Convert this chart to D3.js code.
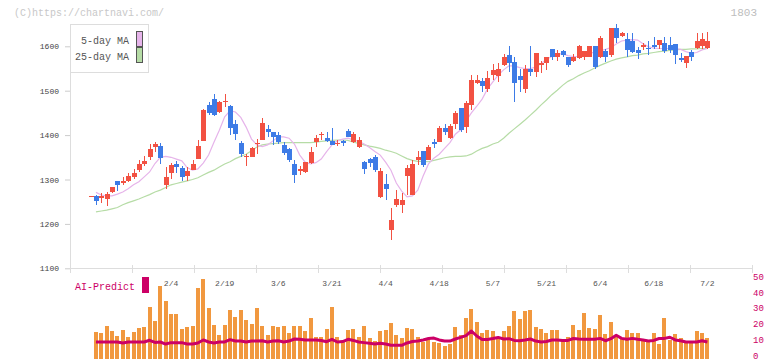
<!DOCTYPE html>
<html><head><meta charset="utf-8">
<script src="https://cdn.jsdelivr.net/npm/d3@7"></script>
<style>body{margin:0;background:#fff;} svg{display:block;font-family:"Liberation Mono","DejaVu Sans Mono",monospace;}</style>
</head><body><svg id="c" width="772" height="361"></svg>
<script>
const openP = [1263,1263,1258,1255,1271,1297,1293,1297,1306,1321,
 1335,1351,1373,1375,1288,1315,1335,1325,1308,1321,
 1347,1387,1468,1481,1452,1476,1466,1425,1383,1352,
 1351,1381,1389,1414,1408,1400,1378,1368,1335,1319,
 1318,1338,1384,1401,1393,1387,1381,1387,1410,1384,
 1374,1340,1346,1351,1261,1290,1186,1243,1242,1308,
 1265,1344,1364,1344,1385,1385,1417,1394,1425,1462,
 1419,1468,1518,1522,1504,1535,1534,1558,1580,1565,
 1532,1504,1550,1541,1558,1562,1595,1577,1589,1577,
 1567,1574,1577,1577,1601,1575,1589,1580,1642,1624,
 1616,1612,1592,1598,1597,1603,1603,1608,1603,1605,
 1574,1563,1588,1597,1601,1597];
const highP = [1263,1264,1269,1271,1283,1297,1306,1315,1324,1344,
 1353,1380,1385,1382,1329,1338,1342,1330,1329,1344,
 1389,1459,1475,1492,1477,1492,1468,1434,1387,1357,
 1374,1391,1438,1423,1408,1408,1385,1370,1344,1330,
 1340,1374,1400,1408,1408,1417,1389,1388,1413,1408,
 1395,1342,1348,1355,1325,1312,1235,1276,1269,1333,
 1344,1365,1364,1378,1391,1420,1425,1425,1454,1462,
 1477,1536,1536,1529,1544,1560,1562,1582,1601,1577,
 1548,1558,1601,1586,1567,1575,1595,1592,1592,1577,
 1583,1604,1589,1601,1601,1623,1595,1642,1650,1632,
 1629,1631,1599,1608,1612,1620,1614,1620,1622,1605,
 1586,1578,1592,1631,1629,1633];
const lowP = [1263,1243,1246,1241,1269,1275,1288,1294,1301,1318,
 1330,1344,1363,1335,1279,1301,1315,1297,1297,1330,
 1346,1386,1445,1443,1449,1464,1400,1389,1351,1330,
 1350,1357,1388,1396,1378,1380,1356,1340,1291,1310,
 1314,1336,1374,1390,1385,1377,1376,1376,1395,1382,
 1372,1312,1329,1318,1258,1254,1164,1239,1225,1265,
 1264,1333,1329,1343,1370,1384,1400,1391,1413,1408,
 1404,1456,1515,1498,1498,1524,1520,1555,1541,1475,
 1498,1494,1534,1530,1539,1547,1569,1568,1577,1554,
 1565,1572,1569,1575,1548,1574,1565,1575,1608,1620,
 1576,1584,1571,1592,1580,1594,1593,1584,1584,1560,
 1565,1552,1568,1593,1594,1594];
const closeP = [1263,1252,1263,1267,1282,1288,1297,1308,1314,1335,
 1342,1369,1380,1349,1306,1333,1329,1305,1320,1335,
 1375,1456,1449,1445,1475,1477,1415,1402,1357,1354,
 1370,1382,1428,1406,1396,1384,1360,1344,1310,1323,
 1340,1363,1393,1402,1387,1378,1382,1382,1396,1402,
 1390,1323,1338,1321,1320,1279,1209,1256,1254,1325,
 1335,1351,1333,1374,1380,1417,1408,1420,1449,1412,
 1472,1524,1524,1511,1529,1547,1550,1575,1562,1518,
 1523,1550,1543,1586,1562,1575,1577,1586,1580,1559,
 1577,1601,1589,1601,1554,1618,1577,1642,1618,1631,
 1592,1587,1584,1603,1594,1598,1614,1590,1592,1580,
 1569,1578,1577,1612,1616,1612];
const ma5 = [null,1271,1265,1263,1263,1267,1272,1279,1288,1295,
 1306,1317,1336,1350,1352,1350,1346,1342,1327,1321,
 1324,1337,1355,1384,1411,1441,1455,1452,1440,1418,
 1391,1378,1374,1378,1387,1396,1396,1393,1380,1355,
 1339,1335,1338,1346,1363,1378,1387,1391,1393,1389,
 1386,1380,1372,1363,1355,1339,1321,1292,1274,1261,
 1263,1276,1308,1335,1348,1357,1370,1383,1402,1412,
 1432,1450,1465,1481,1504,1520,1535,1547,1556,1556,
 1552,1550,1550,1553,1561,1571,1577,1583,1583,1579,
 1577,1577,1580,1584,1587,1590,1593,1597,1605,1612,
 1614,1615,1614,1606,1599,1596,1595,1595,1595,1595,
 1593,1588,1584,1586,1592,1595];
const ma25 = [null,1227,1229,1231,1234,1237,1243,1248,1252,1256,
 1261,1266,1272,1276,1282,1288,1291,1294,1297,1300,
 1304,1310,1316,1321,1328,1335,1340,1347,1352,1357,
 1365,1373,1378,1380,1381,1382,1383,1383,1383,1383,
 1383,1383,1384,1386,1387,1388,1389,1389,1388,1384,
 1381,1378,1375,1373,1370,1366,1363,1359,1353,1347,
 1343,1341,1341,1340,1343,1346,1349,1351,1352,1352,
 1353,1357,1364,1370,1374,1380,1384,1393,1404,1414,
 1424,1434,1445,1456,1468,1479,1491,1501,1512,1521,
 1527,1534,1540,1545,1551,1557,1562,1567,1571,1574,
 1576,1579,1580,1583,1584,1586,1588,1589,1591,1592,
 1593,1593,1594,1594,1595,1595];
const volume = [null,17.5,16.9,21.2,18.0,14.8,18.6,14.2,17.5,19.9,
 20.5,33.2,24.3,46.6,37.1,29.0,29.0,19.3,20.5,21.2,
 45.3,51.0,32.6,21.8,15.3,21.8,31.3,26.9,31.3,25.0,
 22.4,32.6,21.2,15.4,21.2,20.5,21.2,16.7,21.2,21.2,
 18.0,26.3,14.2,14.2,19.3,33.4,14.2,11.2,18.6,19.3,
 14.2,21.2,13.5,11.6,18.0,18.6,23.1,15.4,13.5,19.9,
 19.3,14.2,11.0,13.5,11.2,10.6,8.5,9.9,20.5,15.4,
 26.3,32.0,23.7,16.7,18.6,18.0,14.2,18.0,21.2,30.7,
 25.6,30.7,31.3,20.5,19.3,16.7,18.6,18.6,11.6,14.2,
 21.8,18.6,29.4,19.9,19.3,28.2,16.1,23.7,14.2,13.5,
 18.6,16.7,16.7,12.3,11.0,16.7,9.7,26.3,12.3,16.1,
 13.5,11.6,11.0,18.0,16.7,13.5];
const aiPredict = [null,11.0,11.0,11.0,11.0,11.0,10.4,11.0,11.0,11.0,
 11.0,12.1,10.7,11.0,9.7,10.6,10.6,10.6,9.7,9.7,
 10.4,12.3,11.0,10.4,11.0,11.0,12.5,11.6,11.6,11.0,
 11.6,11.6,11.8,11.0,11.6,11.8,11.0,11.6,12.9,12.7,
 12.2,12.2,12.2,12.0,11.2,12.7,11.0,11.3,12.7,12.0,
 11.0,10.6,10.2,9.7,10.2,9.7,8.9,8.9,8.9,10.4,
 11.3,11.6,12.3,13.2,13.5,12.3,11.6,11.6,12.9,13.9,
 15.1,18.0,14.8,12.6,12.6,13.2,13.9,12.9,13.1,12.0,
 11.8,12.3,12.9,11.6,11.0,11.3,12.3,12.3,12.0,12.0,
 13.2,12.9,12.7,12.7,12.7,13.3,11.8,13.1,15.3,13.3,
 12.7,13.3,12.7,12.3,11.6,12.0,13.2,13.3,14.0,12.3,
 11.8,11.0,11.0,11.0,11.8,11.0];
const dateTickIndex = [15,25,35,45,55,65,75,85,95,105,115];
const dateTickLabels = ["2/4","2/19","3/6","3/21","4/4","4/18","5/7","5/21","6/4","6/18","7/2"];
const priceTicks = [1100,1200,1300,1400,1500,1600];
const predictTicks = [0,10,20,30,40,50];
const legendItems = ["5-day MA","25-day MA"];

const svg = d3.select("#c");
const n = openP.length;
const RED = "#f25142", BLUE = "#3d7be6", PINK = "#e6b4ea", GREEN = "#b6dca6";
const MAG = "#cc0066", ORANGE = "#f1983f";

const x = d3.scalePoint().domain(d3.range(n)).range([90.6, 707.4]);
const y = d3.scaleLinear().domain([1100, 1650]).range([268.3, 24.1]);
const yv = d3.scaleLinear().domain([0, 50]).range([359.3, 280.65]);
const grid = d3.scaleLinear().domain([0, 11]).range([70, 752]);

// watermark & code
svg.append("text").attr("x", 14).attr("y", 16).attr("font-size", 10).attr("fill", "#c8c8c8").text("(C)https://chartnavi.com/");
svg.append("text").attr("x", 757).attr("y", 16).attr("text-anchor", "end").attr("font-size", 11).attr("fill", "#bdbdbd").text("1803");

// y axis
const ya = svg.append("g").attr("transform", "translate(70,0)")
  .call(d3.axisLeft(y).tickValues(priceTicks).tickSize(5).tickSizeOuter(0).tickPadding(6).tickFormat(d3.format("d")));
ya.select(".domain").attr("stroke", "#ddd");
ya.selectAll(".tick line").attr("stroke", "#ccc");
ya.selectAll(".tick text").attr("font-family", "Liberation Mono, monospace").attr("font-size", 8).attr("fill", "#444");

// x axis baseline and ticks
svg.append("line").attr("x1", grid(0)).attr("x2", grid(11)).attr("y1", 268.5).attr("y2", 268.5).attr("stroke", "#ddd");
svg.append("g").selectAll("line").data(d3.range(12)).join("line")
  .attr("x1", d => Math.round(grid(d)) + 0.5).attr("x2", d => Math.round(grid(d)) + 0.5)
  .attr("y1", 265).attr("y2", 273).attr("stroke", "#ddd");
svg.append("g").selectAll("text").data(dateTickIndex).join("text")
  .attr("x", d => x(d)).attr("y", 285.5).attr("text-anchor", "middle")
  .attr("font-size", 8).attr("fill", "#555").text((d, i) => dateTickLabels[i]);

// volume bars
const vIdx = d3.range(n).filter(i => volume[i] != null);
svg.append("g").selectAll("rect").data(vIdx).join("rect")
  .attr("x", i => Math.round(x(i) - 2)).attr("width", 4)
  .attr("y", i => yv(volume[i])).attr("height", i => yv(0) - yv(volume[i]))
  .attr("fill", ORANGE).attr("shape-rendering", "crispEdges");

// AI predict line
svg.append("path").datum(d3.range(n).filter(i => aiPredict[i] != null))
  .attr("fill", "none").attr("stroke", MAG).attr("stroke-width", 3).attr("stroke-linejoin", "round")
  .attr("d", d3.line().x(i => x(i)).y(i => yv(aiPredict[i])));

// right axis labels
svg.append("g").selectAll("text").data(predictTicks).join("text")
  .attr("x", 753).attr("y", d => yv(d) - 0.8)
  .attr("font-size", 9).attr("fill", MAG).text(d => d);

// AI-Predict label
svg.append("text").attr("x", 75).attr("y", 289.5).attr("font-size", 10).attr("fill", MAG).text("AI-Predict");
svg.append("rect").attr("x", 142).attr("y", 277).attr("width", 7).attr("height", 16).attr("fill", MAG);

// moving averages
const lineGen = arr => d3.line().defined(i => arr[i] != null).x(i => x(i)).y(i => y(arr[i]));
svg.append("path").attr("fill", "none").attr("stroke", GREEN).attr("stroke-width", 1.2).attr("d", lineGen(ma25)(d3.range(n)));
svg.append("path").attr("fill", "none").attr("stroke", PINK).attr("stroke-width", 1.2).attr("d", lineGen(ma5)(d3.range(n)));

// candles
const cg = svg.append("g").attr("shape-rendering", "crispEdges");
const col = i => closeP[i] >= openP[i] ? RED : BLUE;
cg.selectAll("line").data(d3.range(n)).join("line")
  .attr("x1", i => Math.round(x(i)) + 0.5).attr("x2", i => Math.round(x(i)) + 0.5)
  .attr("y1", i => y(highP[i])).attr("y2", i => y(lowP[i])).attr("stroke", col);
cg.selectAll("rect").data(d3.range(n)).join("rect")
  .attr("x", i => Math.round(x(i)) - 2).attr("width", 5)
  .attr("y", i => y(Math.max(openP[i], closeP[i])))
  .attr("height", i => Math.max(1.2, Math.abs(y(openP[i]) - y(closeP[i]))))
  .attr("fill", col);

// legend
const lg = svg.append("g");
lg.append("rect").attr("x", 70.5).attr("y", 24.5).attr("width", 78).attr("height", 48).attr("fill", "#fff").attr("stroke", "#ddd");
lg.selectAll("text").data(legendItems).join("text")
  .attr("x", 129).attr("y", (d, i) => 44 + i * 16).attr("text-anchor", "end")
  .attr("font-size", 10).attr("fill", "#555").text(d => d);
lg.selectAll("rect.sw").data([PINK, GREEN]).join("rect").attr("class", "sw")
  .attr("x", 136.5).attr("y", (d, i) => 31.5 + i * 16).attr("width", 6).attr("height", 15)
  .attr("fill", d => d).attr("stroke", "#555");
</script></body></html>
